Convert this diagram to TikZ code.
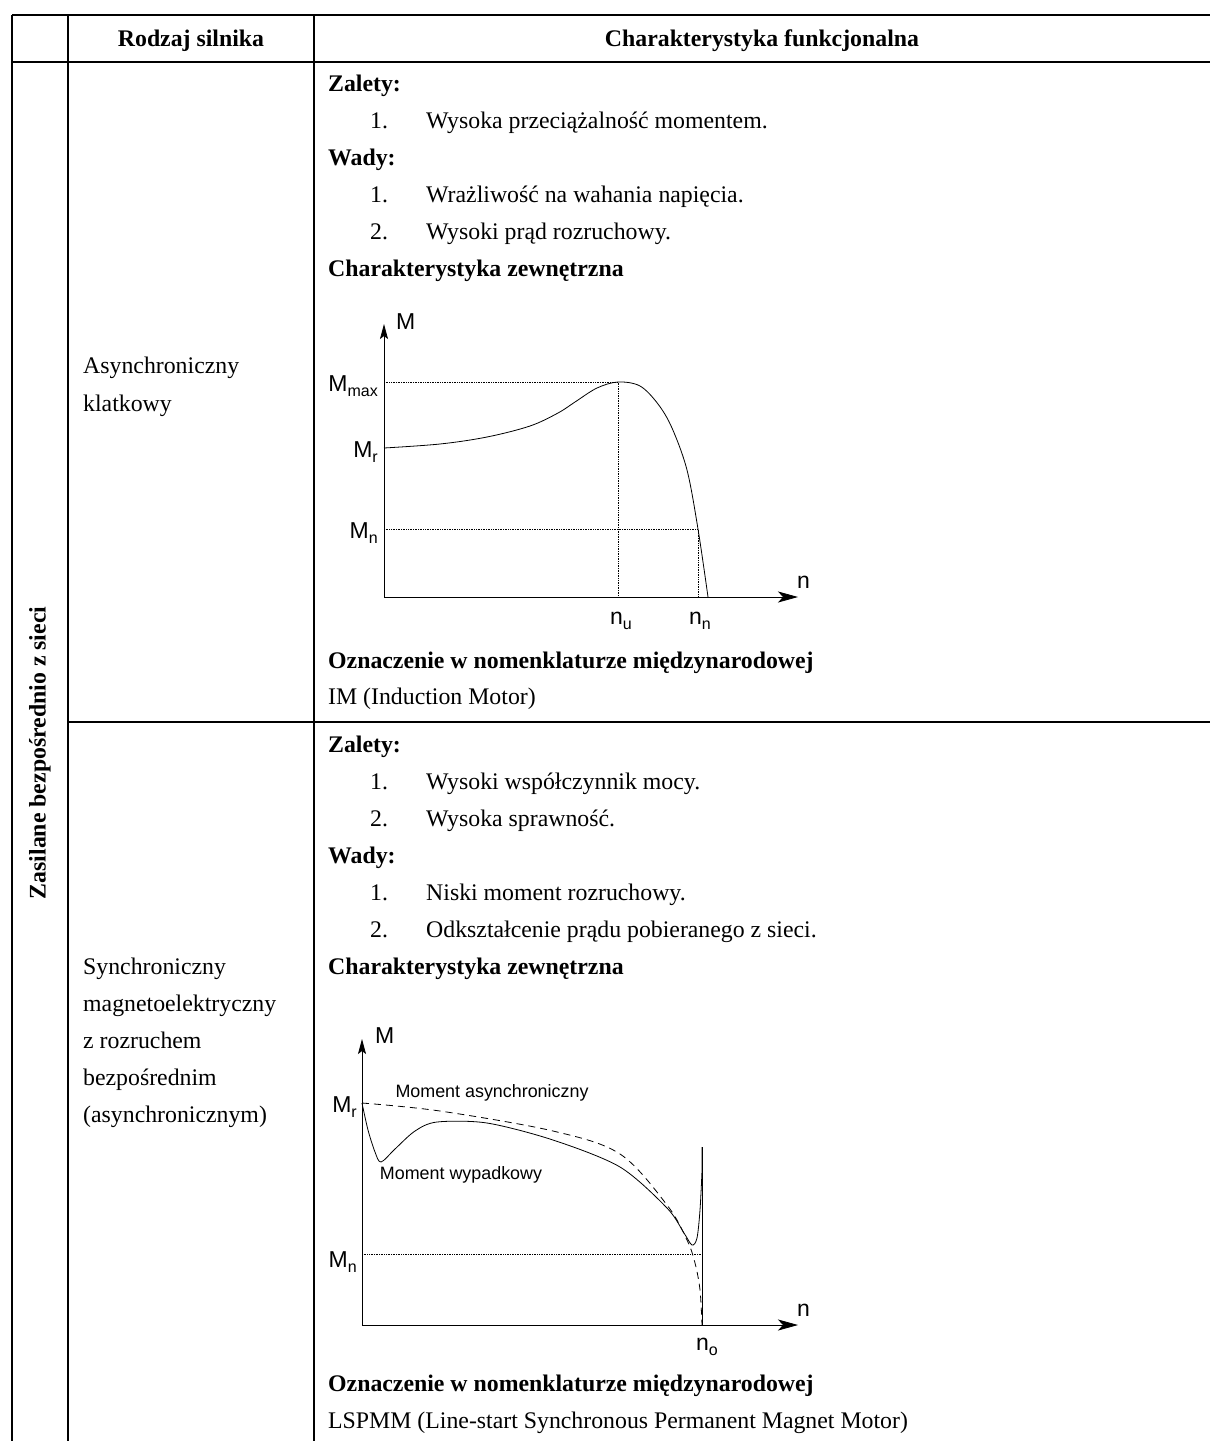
\documentclass[tikz,border=0pt]{standalone}
\usepackage{fontspec}
\setmainfont{Liberation Serif}
\newfontfamily\chartfont{Liberation Sans}
\usetikzlibrary{arrows.meta}
\newcommand\subsc[1]{\raisebox{-5pt}{\fontsize{16}{16}\selectfont #1}}
\begin{document}
\begin{tikzpicture}[x=1pt,y=-1pt,
  tbl/.style={line width=1.7pt},
  txt/.style={anchor=base west,inner sep=0pt,font=\fontsize{23.8}{28}\selectfont},
  btxt/.style={txt,font=\fontsize{23.8}{28}\selectfont\bfseries},
  hdr/.style={anchor=base,inner sep=0pt,font=\fontsize{23.8}{28}\selectfont\bfseries},
  axis/.style={line width=0.8pt},
  crv/.style={line width=0.8pt},
  dot/.style={line width=0.7pt,densely dotted},
  dsh/.style={line width=0.8pt,dash pattern=on 7pt off 5pt},
  lbl/.style={inner sep=0pt,font=\chartfont\fontsize{23}{23}\selectfont},
  slbl/.style={inner sep=0pt,font=\chartfont\fontsize{17.9}{18}\selectfont},
  xarr/.style={-{Stealth[length=20pt,width=11pt,inset=5pt]}},
  yarr/.style={-{Stealth[length=15pt,width=8pt,inset=3pt]}}
]
\useasboundingbox[fill=white] (0,0) rectangle (1210,1441);
% table grid
\draw[tbl] (12,15) -- (1210,15);
\draw[tbl] (12,62) -- (1210,62);
\draw[tbl] (12,15) -- (12,1441);
\draw[tbl] (68,15) -- (68,1441);
\draw[tbl] (314,15) -- (314,1441);
\draw[tbl] (68,722) -- (1210,722);
% header
\node[hdr] (h1) at (191,46) {Rodzaj silnika};
\node[hdr] (h2) at (762,46) {Charakterystyka funkcjonalna};
\node[hdr,rotate=90,anchor=center] (side) at (40,753) {Zasilane bezpośrednio z sieci};
% row 1 column 2
\node[txt] (a1) at (83,373) {Asynchroniczny};
\node[txt] (a2) at (83,411) {klatkowy};
% row 1 column 3
\node[btxt] (z1) at (328,91) {Zalety:};
\node[txt] (z1n1) at (370,128) {1.};
\node[txt] (z1t1) at (426,128) {Wysoka przeciążalność momentem.};
\node[btxt] (w1) at (328,165) {Wady:};
\node[txt] (w1n1) at (370,202) {1.};
\node[txt] (w1t1) at (426,202) {Wrażliwość na wahania napięcia.};
\node[txt] (w1n2) at (370,239) {2.};
\node[txt] (w1t2) at (426,239) {Wysoki prąd rozruchowy.};
\node[btxt] (c1) at (328,276) {Charakterystyka zewnętrzna};
\node[btxt] (o1) at (328,668) {Oznaczenie w nomenklaturze międzynarodowej};
\node[txt] (im) at (328,704) {IM (Induction Motor)};
% chart 1
\coordinate (O1) at (384,597);
\coordinate (Y1) at (384,324);
\coordinate (X1) at (798,597);
\draw[axis,yarr] (O1) -- (Y1);
\draw[axis,xarr] (O1) -- (X1);
\node[lbl,anchor=west] (M1) at (396,322) {M};
\node[lbl,anchor=south west] (n1) at (797,589) {n};
\coordinate (pk) at (618,382);
\coordinate (mn1) at (698,529);
\draw[dot] (384,382) -- (pk) -- (618,597);
\draw[dot] (384,529) -- (mn1) -- (698,597);
\node[lbl,anchor=base east] (Mmax) at (378,391) {M\subsc{max}};
\node[lbl,anchor=base east] (Mr1) at (378,457) {M\subsc{r}};
\node[lbl,anchor=base east] (Mn1) at (378,538) {M\subsc{n}};
\node[lbl,anchor=base] (nu) at (621,624) {n\subsc{u}};
\node[lbl,anchor=base] (nn) at (700,624) {n\subsc{n}};
\draw[crv] plot[smooth,tension=0.55] coordinates {(384,448) (440,444) (487,437) (530,426) (558,413) (575,402) (597,388) (618,382) (640,386) (658,404) (672,428) (687,470) (698,529) (708,597)};
% row 2 column 2
\node[txt] (s1) at (83,974) {Synchroniczny};
\node[txt] (s2) at (83,1011) {magnetoelektryczny};
\node[txt] (s3) at (83,1048) {z rozruchem};
\node[txt] (s4) at (83,1085) {bezpośrednim};
\node[txt] (s5) at (83,1122) {(asynchronicznym)};
% row 2 column 3
\node[btxt] (z2) at (328,752) {Zalety:};
\node[txt] (z2n1) at (370,789) {1.};
\node[txt] (z2t1) at (426,789) {Wysoki współczynnik mocy.};
\node[txt] (z2n2) at (370,826) {2.};
\node[txt] (z2t2) at (426,826) {Wysoka sprawność.};
\node[btxt] (w2) at (328,863) {Wady:};
\node[txt] (w2n1) at (370,900) {1.};
\node[txt] (w2t1) at (426,900) {Niski moment rozruchowy.};
\node[txt] (w2n2) at (370,937) {2.};
\node[txt] (w2t2) at (426,937) {Odkształcenie prądu pobieranego z sieci.};
\node[btxt] (c2) at (328,974) {Charakterystyka zewnętrzna};
\node[btxt] (o2) at (328,1391) {Oznaczenie w nomenklaturze międzynarodowej};
\node[txt] (ls) at (328,1428) {LSPMM (Line-start Synchronous Permanent Magnet Motor)};
% chart 2
\coordinate (O2) at (362,1325);
\coordinate (Y2) at (362,1039);
\coordinate (X2) at (798,1325);
\draw[axis,yarr] (O2) -- (Y2);
\draw[axis,xarr] (O2) -- (X2);
\node[lbl,anchor=west] (M2) at (375,1036) {M};
\node[lbl,anchor=south west] (n2) at (797,1317) {n};
\node[lbl,anchor=base east] (Mr2) at (357,1112) {M\subsc{r}};
\node[lbl,anchor=base east] (Mn2) at (357,1267) {M\subsc{n}};
\node[lbl,anchor=base] (no) at (707,1350) {n\subsc{o}};
\coordinate (sp) at (702,1147);
\draw[dot] (362,1254) -- (702,1254);
\draw[dsh] plot[smooth,tension=0.55] coordinates {(362,1103) (440,1111) (553,1131) (620,1154) (667,1205) (687,1240) (695,1263) (700,1290) (702,1325)};
\draw[crv] plot[smooth,tension=0.5] coordinates {(362,1103) (368,1130) (375,1152) (381,1162) (395,1149) (415,1131) (437,1122) (487,1123) (553,1140) (620,1167) (667,1208) (684,1233) (692,1245) (697,1238) (700,1210) (702,1170) (sp)};
\draw[crv] (sp) -- (702,1325);
\node[slbl,anchor=center] (ma) at (492,1093) {Moment asynchroniczny};
\node[slbl,anchor=center] (mw) at (461,1175) {Moment wypadkowy};
\end{tikzpicture}
\end{document}
